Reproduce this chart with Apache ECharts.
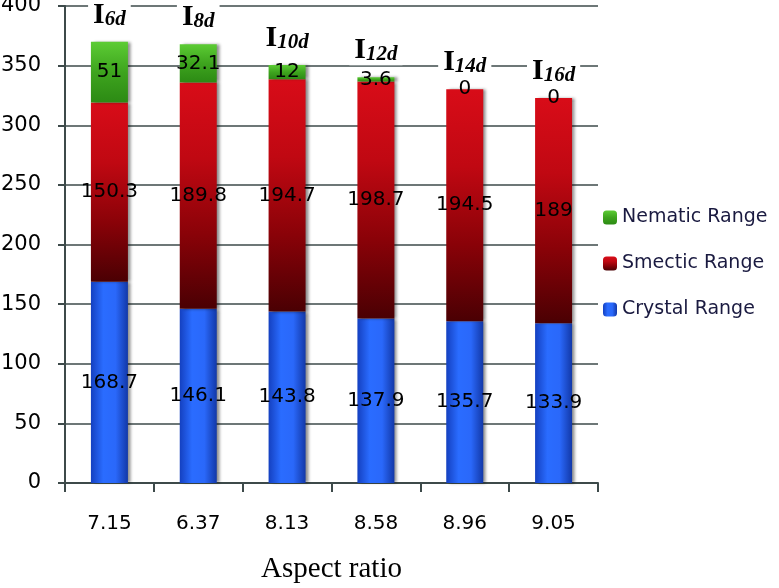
<!DOCTYPE html>
<html>
<head>
<meta charset="utf-8">
<script src="https://cdn.jsdelivr.net/npm/echarts@6/dist/echarts.min.js"></script>
<style>
  html, body { margin: 0; padding: 0; background: #fff; }
  #chart { width: 779px; height: 588px; }
</style>
</head>
<body>
<div id="chart"></div>
<script>
  // data
  var categories = ['7.15', '6.37', '8.13', '8.58', '8.96', '9.05'];
  var compounds = ['6d', '8d', '10d', '12d', '14d', '16d'];
  var crystal = [168.7, 146.1, 143.8, 137.9, 135.7, 133.9];
  var smectic = [150.3, 189.8, 194.7, 198.7, 194.5, 189];
  var nematic = [51, 32.1, 12, 3.6, 0, 0];
  var yTicks = [0, 50, 100, 150, 200, 250, 300, 350, 400];

  var chart = echarts.init(document.getElementById('chart'));

  var valueLabel = {
    show: true,
    position: 'inside',
    color: '#000',
    fontFamily: 'DejaVu Sans',
    fontSize: 20
  };
  var shadow = {shadowColor: 'rgba(0,0,0,0.45)', shadowOffsetX: 3, shadowBlur: 3};

  function grad(stops, horizontal) {
    return new echarts.graphic.LinearGradient(0, 0, horizontal ? 1 : 0, horizontal ? 0 : 1,
      stops.map(function (c, i) { return {offset: i / (stops.length - 1), color: c}; }));
  }

  chart.setOption({
    animation: false,
    grid: {left: 65, right: 181, top: 6, bottom: 105, outerBoundsMode: 'none'},
    legend: {
      orient: 'vertical',
      left: 598,
      top: 203,
      itemGap: 27,
      itemWidth: 14,
      itemHeight: 14,
      data: ['Nematic Range', 'Smectic Range', 'Crystal Range'],
      textStyle: {color: '#1a1a40', fontFamily: 'DejaVu Sans', fontSize: 19}
    },
    xAxis: {
      type: 'category',
      data: categories,
      name: 'Aspect ratio',
      nameLocation: 'middle',
      nameGap: 72,
      nameTextStyle: {fontFamily: 'Liberation Serif', fontSize: 29, color: '#000'},
      axisLine: {lineStyle: {color: '#3d4a4a', width: 2}},
      axisTick: {show: true, length: 9, lineStyle: {color: '#3d4a4a', width: 2}},
      axisLabel: {margin: 31, color: '#000', fontFamily: 'DejaVu Sans', fontSize: 20}
    },
    yAxis: {
      type: 'value',
      min: yTicks[0],
      max: yTicks[yTicks.length - 1],
      interval: 50,
      axisLine: {show: true, lineStyle: {color: '#3d4a4a', width: 2}},
      axisTick: {show: true, length: 7, lineStyle: {color: '#3d4a4a', width: 2}},
      axisLabel: {margin: 24, color: '#000', fontFamily: 'DejaVu Sans', fontSize: 21},
      splitLine: {lineStyle: {color: '#3d4a4a', width: 1.6}}
    },
    series: [
      {
        name: 'Crystal Range',
        type: 'bar',
        stack: 'all',
        barWidth: 37,
        data: crystal,
        label: valueLabel,
        itemStyle: Object.assign({color: grad(['#1440c0', '#2a6cff', '#2a68fa', '#1238a8'], true)}, shadow)
      },
      {
        name: 'Smectic Range',
        type: 'bar',
        stack: 'all',
        data: smectic,
        label: valueLabel,
        itemStyle: Object.assign({color: grad(['#d80c18', '#c00812', '#8a0208', '#4a0003'])}, shadow)
      },
      {
        name: 'Nematic Range',
        type: 'bar',
        stack: 'all',
        data: nematic,
        label: valueLabel,
        itemStyle: Object.assign({color: grad(['#5ccc34', '#3ea41e', '#2c8a14'])}, shadow)
      },
      {
        name: 'compound',
        type: 'bar',
        stack: 'all',
        data: compounds.map(function () { return 0; }),
        itemStyle: {color: 'transparent'},
        label: {
          show: true,
          position: 'top',
          distance: 12,
          backgroundColor: '#fff',
          padding: [0, 5, 0, 5],
          formatter: function (p) { return '{i|I}{s|' + compounds[p.dataIndex] + '}'; },
          rich: {
            i: {fontFamily: 'Liberation Serif', fontWeight: 'bold', fontSize: 30, color: '#000', lineHeight: 30},
            s: {fontFamily: 'Liberation Serif', fontWeight: 'bold', fontStyle: 'italic', fontSize: 21, color: '#000',
                verticalAlign: 'bottom', lineHeight: 30, padding: [7, 0, 0, 0]}
          }
        }
      }
    ]
  });
</script>
</body>
</html>
